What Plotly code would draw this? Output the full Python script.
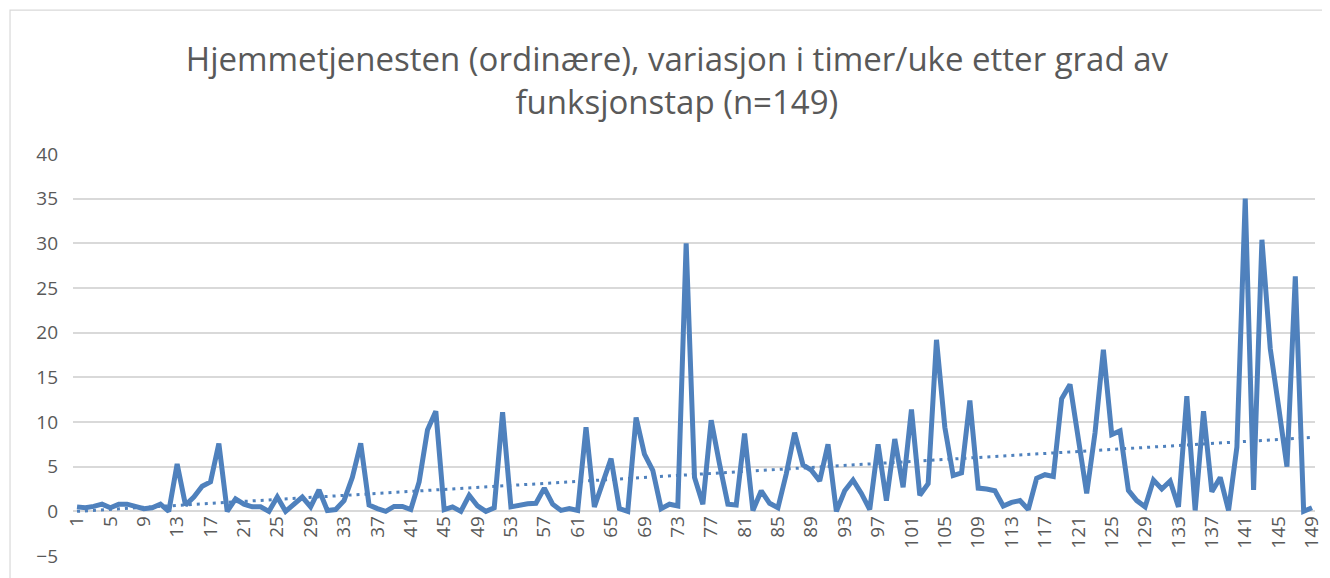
import numpy as np
import plotly.graph_objects as go

title_text = "Hjemmetjenesten (ordinære), variasjon i timer/uke etter grad av<br>funksjonstap (n=149)"

categories = list(range(1, 150))
hours = [
    0.5, 0.4, 0.55, 0.8, 0.4, 0.8, 0.8, 0.5, 0.3, 0.4,
    0.8, 0.0, 5.3, 0.7, 1.6, 2.8, 3.3, 7.6, 0.0, 1.4,
    0.8, 0.5, 0.5, 0.0, 1.6, 0.0, 0.8, 1.6, 0.5, 2.4,
    0.1, 0.2, 1.2, 3.8, 7.6, 0.7, 0.3, 0.0, 0.55, 0.55,
    0.2, 3.3, 9.1, 11.2, 0.2, 0.5, 0.0, 1.8, 0.6, 0.0,
    0.4, 11.1, 0.5, 0.7, 0.85, 0.9, 2.6, 0.8, 0.1, 0.3,
    0.1, 9.4, 0.5, 3.2, 5.9, 0.3, 0.0, 10.5, 6.4, 4.6,
    0.3, 0.8, 0.6, 30.0, 3.8, 0.8, 10.2, 5.3, 0.8, 0.7,
    8.7, 0.1, 2.3, 0.9, 0.4, 4.2, 8.8, 5.2, 4.6, 3.4,
    7.5, 0.0, 2.3, 3.5, 2.0, 0.2, 7.5, 1.2, 8.1, 2.7,
    11.4, 1.8, 3.1, 19.2, 9.4, 4.0, 4.3, 12.4, 2.6, 2.5,
    2.3, 0.6, 1.0, 1.2, 0.2, 3.7, 4.1, 3.9, 12.6, 14.2,
    8.2, 2.0, 8.8, 18.1, 8.6, 9.0, 2.35, 1.2, 0.5, 3.5,
    2.5, 3.4, 0.5, 12.9, 0.1, 11.2, 2.2, 3.8, 0.1, 7.2,
    35.0, 2.4, 30.4, 18.2, 11.7, 5.0, 26.3, 0.0, 0.4,
]
x_tick_values = list(range(1, 150, 4))
y_tick_values = [-5, 0, 5, 10, 15, 20, 25, 30, 35, 40]

blue = "#4F81BD"
text_grey = "#595959"
grid_grey = "#D9D9D9"

# Linear trendline (as Excel's linear trend)
slope, intercept = np.polyfit(categories, hours, 1)
trend = [slope * c + intercept for c in categories]

fig = go.Figure()
fig.add_trace(go.Scatter(
    x=categories, y=hours, mode="lines",
    line=dict(color=blue, width=5),
    hoverinfo="skip", showlegend=False,
))
fig.add_trace(go.Scatter(
    x=categories, y=trend, mode="lines",
    line=dict(color=blue, width=3, dash="3px,5px"),
    hoverinfo="skip", showlegend=False,
))

# chart border
fig.add_shape(type="rect", xref="paper", yref="paper",
              x0=-0.0507, x1=1.2, y0=-0.3, y1=1.358,
              line=dict(color=grid_grey, width=1.2), layer="below")

fig.update_layout(
    width=1322, height=570,
    paper_bgcolor="white", plot_bgcolor="white",
    margin=dict(l=65, r=15, t=146, b=22, autoexpand=False),
    title=dict(text=title_text, x=0.506, xanchor="center", xref="container",
               y=0.889, yanchor="middle", yref="container",
               font=dict(family="Open Sans", size=33, color=text_grey)),
    font=dict(family="Open Sans", color=text_grey),
    xaxis=dict(
        range=[0.52, 149.36], tickmode="array", tickvals=x_tick_values,
        ticktext=[str(v) for v in x_tick_values], tickangle=-90,
        showgrid=False, zeroline=False, showline=False, ticks="",
        anchor="free", position=5 / 45,
        tickfont=dict(family="Open Sans", size=19, color=text_grey),
    ),
    yaxis=dict(
        range=[-5, 40], tickmode="array", tickvals=y_tick_values,
        showgrid=True, gridcolor=grid_grey, gridwidth=1.5,
        zeroline=False, showline=False, ticks="",
        ticklabelstandoff=14,
        tickfont=dict(family="Open Sans", size=19, color=text_grey),
    ),
)

fig.write_html("out.html")
